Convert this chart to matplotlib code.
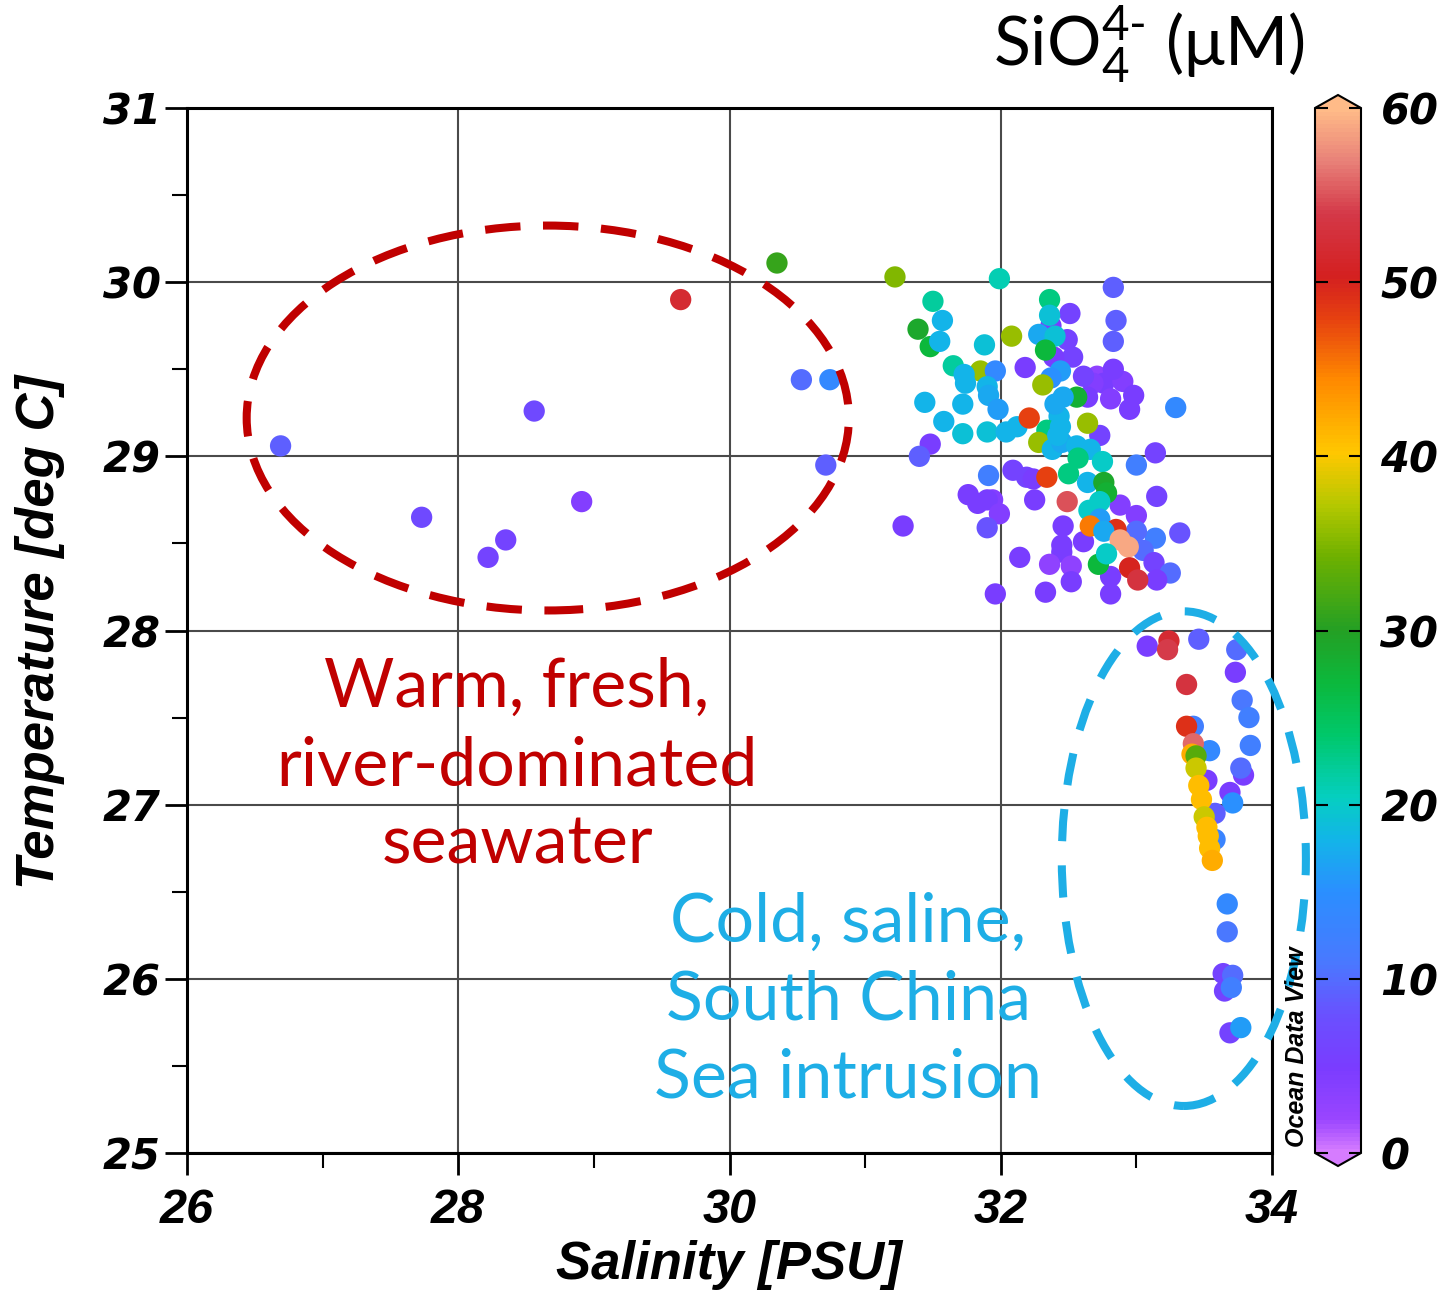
import numpy as np
import matplotlib
matplotlib.use("Agg")
import matplotlib.pyplot as plt
from matplotlib.colors import LinearSegmentedColormap
from matplotlib.patches import Ellipse
from matplotlib.ticker import MultipleLocator

plt.rcParams['mathtext.fontset'] = 'custom'
plt.rcParams['mathtext.rm'] = 'Lato'
plt.rcParams['mathtext.it'] = 'Lato:italic'

# ---- station data: salinity (PSU), temperature (deg C), silicate (uM) ----
# river plume stations
sal_river = [26.69, 27.73, 28.56, 28.22, 28.35, 28.91, 29.64, 30.35, 30.53, 30.74, 30.71]
temp_river = [29.06, 28.65, 29.26, 28.42, 28.52, 28.74, 29.90, 30.11, 29.44, 29.44, 28.95]
sio_river = [9, 7, 7, 6, 6, 4, 52, 31, 10, 14, 9]

# shelf / mixed water stations
sal_shelf = [32.83, 32.51, 32.85, 32.83, 32.49, 32.53, 32.39, 32.37, 32.18, 32.71,
             32.76, 32.90, 32.98, 32.81, 32.95, 32.83, 32.68, 32.64, 32.61, 32.73,
             33.14, 33.00, 31.48, 31.40, 31.91, 32.09, 32.19, 32.24, 31.76, 31.83,
             31.94, 31.90, 31.99, 31.90, 32.25, 33.00, 33.15, 32.88, 32.46, 33.14,
             33.32, 33.00, 33.05, 32.61, 32.45, 32.45, 33.13, 33.25, 32.14, 32.36,
             32.52, 32.52, 32.81, 32.81, 32.33, 31.96, 31.28, 33.15, 33.29,
             31.22, 31.99, 31.50, 32.36, 31.57, 32.36, 31.39, 32.08, 32.28, 32.40,
             31.48, 31.55, 31.88, 32.33, 31.65, 31.85, 31.96, 31.73, 31.74, 32.44,
             32.37, 32.31, 32.56, 32.46, 31.90, 31.91, 31.98, 31.44, 31.72, 31.58,
             31.72, 31.90, 32.04, 32.12, 32.21, 32.43, 32.64, 32.34, 32.44, 32.28,
             32.38, 32.45, 32.40, 32.42, 32.56, 32.66, 32.57, 32.75, 32.34, 32.50,
             32.64, 32.76, 32.78, 32.49, 32.73, 32.65, 32.73, 32.66, 32.85, 32.76,
             32.88, 32.94, 32.72, 32.78, 32.95, 33.01]
temp_shelf = [29.97, 29.82, 29.78, 29.66, 29.67, 29.57, 29.57, 29.75, 29.51, 29.46,
              29.42, 29.43, 29.35, 29.33, 29.27, 29.50, 29.42, 29.34, 29.46, 29.12,
              29.02, 28.95, 29.07, 29.00, 28.89, 28.92, 28.88, 28.87, 28.78, 28.73,
              28.75, 28.75, 28.67, 28.59, 28.75, 28.66, 28.77, 28.72, 28.60, 28.53,
              28.56, 28.57, 28.46, 28.51, 28.49, 28.45, 28.39, 28.33, 28.42, 28.38,
              28.37, 28.28, 28.31, 28.21, 28.22, 28.21, 28.60, 28.29, 29.28,
              30.03, 30.02, 29.89, 29.90, 29.78, 29.81, 29.73, 29.69, 29.70, 29.69,
              29.63, 29.66, 29.64, 29.61, 29.52, 29.49, 29.49, 29.47, 29.42, 29.49,
              29.45, 29.41, 29.34, 29.34, 29.40, 29.35, 29.27, 29.31, 29.30, 29.20,
              29.13, 29.14, 29.14, 29.17, 29.22, 29.23, 29.19, 29.15, 29.17, 29.08,
              29.04, 29.08, 29.30, 29.12, 29.06, 29.04, 28.99, 28.97, 28.88, 28.90,
              28.85, 28.85, 28.79, 28.74, 28.74, 28.69, 28.64, 28.60, 28.58, 28.57,
              28.52, 28.48, 28.38, 28.44, 28.36, 28.29]
sio_shelf = [9, 6, 9, 9, 6, 6, 5, 5, 5, 3,
             5, 4, 5, 4, 5, 5, 4, 5, 6, 6,
             6, 12, 5, 9, 12, 6, 6, 5, 5, 5,
             4, 5, 4, 8, 5, 4, 6, 4, 5, 12,
             8, 10, 10, 5, 5, 5, 6, 10, 5, 3,
             3, 5, 5, 5, 5, 5, 5, 5, 14,
             35, 21, 22, 23, 18, 19, 29, 36, 17, 19,
             27, 18, 19, 27, 22, 36, 14, 18, 18, 16,
             15, 36, 28, 17, 18, 17, 16, 18, 18, 18,
             19, 19, 18, 18, 48, 18, 36, 23, 18, 36,
             18, 17, 17, 18, 18, 18, 23, 20, 48, 23,
             18, 29, 28, 55, 20, 20, 16, 45, 49, 17,
             59, 59, 27, 20, 50, 53]

# South China Sea intrusion stations
sal_scs = [33.08, 33.24, 33.23, 33.46, 33.74, 33.73, 33.37, 33.78, 33.83, 33.42,
           33.37, 33.54, 33.84, 33.42, 33.41, 33.44, 33.52, 33.44, 33.79, 33.77,
           33.46, 33.69, 33.71, 33.58, 33.48, 33.50, 33.58, 33.52, 33.53, 33.54,
           33.56, 33.67, 33.67, 33.64, 33.71, 33.65, 33.70, 33.69, 33.77]
temp_scs = [27.91, 27.94, 27.89, 27.95, 27.89, 27.76, 27.69, 27.60, 27.50, 27.45,
            27.45, 27.31, 27.34, 27.35, 27.29, 27.28, 27.14, 27.21, 27.17, 27.21,
            27.11, 27.07, 27.01, 26.95, 27.03, 26.93, 26.80, 26.87, 26.82, 26.75,
            26.68, 26.43, 26.27, 26.03, 26.02, 25.93, 25.95, 25.69, 25.72]
sio_scs = [5, 52, 54, 9, 10, 5, 53, 11, 12, 12,
           49, 14, 12, 56, 42, 33, 5, 38, 5, 10,
           41, 5, 15, 9, 41, 38, 13, 41, 41, 41,
           42, 14, 11, 6, 10, 6, 12, 6, 16]

sal = np.array(sal_river + sal_shelf + sal_scs)
temp = np.array(temp_river + temp_shelf + temp_scs)
sio = np.array(sio_river + sio_shelf + sio_scs)

# ODV style rainbow
odv = LinearSegmentedColormap.from_list('odv', [
    (0.00, '#d67cff'), (0.03, '#9a45ff'), (0.08, '#7a3cff'), (0.13, '#6a50ff'),
    (0.18, '#4a78ff'), (0.25, '#2a8fff'), (0.30, '#12b5e8'), (0.34, '#05cfc0'),
    (0.40, '#00c86a'), (0.45, '#0cb83c'), (0.50, '#24a024'), (0.57, '#6db000'),
    (0.62, '#b4c800'), (0.67, '#ffc800'), (0.74, '#ff8a00'), (0.80, '#e64010'),
    (0.84, '#d42020'), (0.90, '#d43848'), (0.95, '#e88078'), (1.00, '#ffbb88')])

ARIAL = ['Liberation Sans', 'DejaVu Sans']

W, H = 1437, 1291
fig = plt.figure(figsize=(W / 100, H / 100), dpi=100)
ax = fig.add_axes([187 / W, 1 - 1153 / H, 1085 / W, 1045 / H])
# colour bar box includes the two end triangles
ext = 13
cax = fig.add_axes([1315 / W, 1 - (1153 + ext) / H, 46 / W, (1045 + 2 * ext) / H])

sc = ax.scatter(sal, temp, c=sio, cmap=odv, vmin=0, vmax=60, s=235,
                edgecolors='none', zorder=3)

ax.set_xlim(26, 34)
ax.set_ylim(25, 31)
ax.xaxis.set_major_locator(MultipleLocator(2))
ax.xaxis.set_minor_locator(MultipleLocator(1))
ax.yaxis.set_major_locator(MultipleLocator(1))
ax.yaxis.set_minor_locator(MultipleLocator(0.5))
ax.grid(True, which='major', color='#4a4a4a', lw=1.5, zorder=1)
ax.tick_params(which='major', length=16, width=2, direction='out')
ax.tick_params(which='minor', length=11, width=1.5, direction='out')
ax.tick_params(axis='x', pad=9)
ax.tick_params(axis='y', pad=3)
for sp in ax.spines.values():
    sp.set_linewidth(2.2)
for lab in ax.get_xticklabels():
    lab.set_family(ARIAL)
    lab.set_fontsize(35)
    lab.set_fontweight('bold')
    lab.set_fontstyle('italic')
for lab in ax.get_yticklabels():
    lab.set_family('DejaVu Sans')
    lab.set_fontsize(30)
    lab.set_fontweight('bold')
    lab.set_fontstyle('italic')

# water mass outlines
ax.add_patch(Ellipse((28.66, 29.22), 4.44, 2.21, fill=False, ec='#c00000',
                     lw=5.8, ls=(0, (4.4, 2.8)), zorder=4, clip_on=False))
ax.add_patch(Ellipse((33.35, 26.69), 1.80, 2.84, fill=False, ec='#1eaee6',
                     lw=5.8, ls=(0, (4.0, 3.0)), zorder=4, clip_on=False))

red_lines = ['Warm, fresh,', 'river-dominated', 'seawater']
blue_lines = ['Cold, saline,', 'South China', 'Sea intrusion']
for i, t in enumerate(red_lines):
    fig.text(517 / W, 1 - (707 + 78 * i) / H, t, color='#c00000', family='Lato',
             fontsize=49, ha='center', va='baseline')
for i, t in enumerate(blue_lines):
    fig.text(848 / W, 1 - (942 + 78 * i) / H, t, color='#1eaee6', family='Lato',
             fontsize=49, ha='center', va='baseline')

# axis titles
fig.text(729 / W, 1 - 1279 / H, 'Salinity [PSU]', family=ARIAL,
         fontsize=38, fontweight='bold', fontstyle='italic', ha='center', va='baseline')
fig.text(40 / W, 1 - 632 / H, 'Temperature [deg C]', family=ARIAL,
         fontsize=38, fontweight='bold', fontstyle='italic', ha='center', va='center',
         rotation=90)

# colour bar
cb = fig.colorbar(sc, cax=cax, extend='both', extendfrac=ext / 1045,
                  ticks=[0, 10, 20, 30, 40, 50, 60])
cb.outline.set_linewidth(1.5)
cax.tick_params(length=9, width=1.5, direction='in', left=True, right=True, pad=14)
for lab in cax.get_yticklabels():
    lab.set_family('DejaVu Sans')
    lab.set_fontsize(30)
    lab.set_fontweight('bold')
    lab.set_fontstyle('italic')

fig.text(1305 / W, 1 - 45 / H, r'SiO$_4^{4\text{-}}$ (μM)', family='Lato', fontsize=49,
         ha='right', va='center')
fig.text(1297 / W, 1 - 1147 / H, 'Ocean Data View', family=ARIAL,
         fontsize=18, fontweight='bold', fontstyle='italic', rotation=90,
         ha='center', va='bottom')

fig.savefig('out.png', dpi=100)
